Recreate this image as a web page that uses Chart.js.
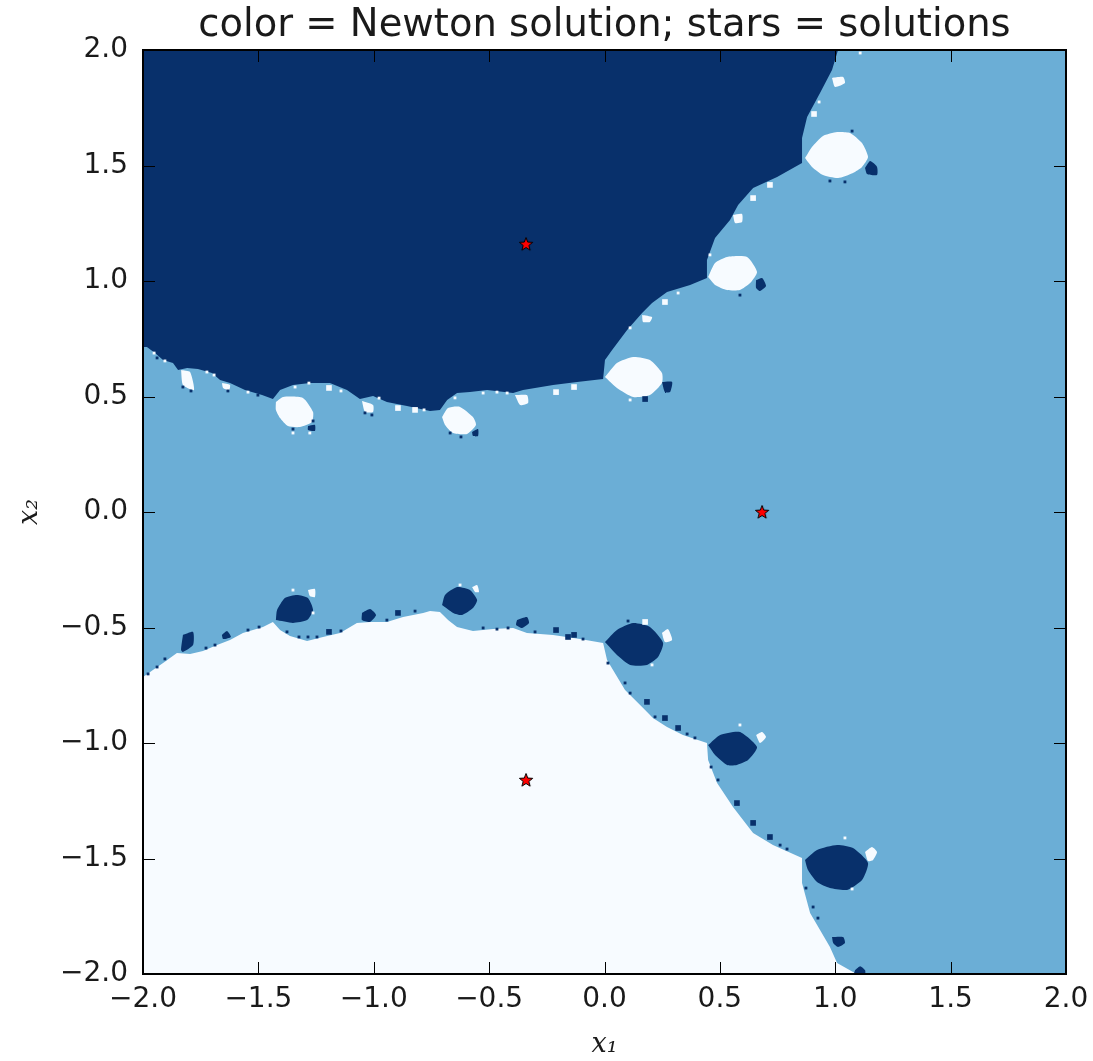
<!DOCTYPE html>
<html>
<head>
<meta charset="utf-8">
<style>
html, body { margin: 0; padding: 0; background: #fff; }
canvas { display: block; }
</style>
<script src="https://cdn.jsdelivr.net/npm/chart.js@4/dist/chart.umd.min.js"></script>
</head>
<body>
<canvas id="grafico" width="1093" height="1061"></canvas>
<script>
var tituloTexto = 'color = Newton solution; stars = solutions';
var tickValues = [-2, -1.5, -1, -0.5, 0, 0.5, 1, 1.5, 2];
var tickLabels = ['\u22122.0', '\u22121.5', '\u22121.0', '\u22120.5', '0.0', '0.5', '1.0', '1.5', '2.0'];

var plano = [[-2,-2],[2,-2],[2,2],[-2,2]];

// region of the upper solution (dark)
var regionArriba = [[-2,2],[-2,0.714],[-1.983,0.714],[-1.948,0.688],[-1.913,0.658],[-1.870,0.645],[-1.848,0.615],[-1.809,0.623],[-1.762,0.619],[-1.701,0.602],[-1.666,0.571],[-1.623,0.558],[-1.558,0.528],[-1.484,0.506],[-1.437,0.489],[-1.406,0.528],[-1.350,0.550],[-1.277,0.558],[-1.190,0.558],[-1.116,0.528],[-1.060,0.489],[-1.003,0.502],[-0.943,0.476],[-0.856,0.459],[-0.756,0.437],[-0.713,0.442],[-0.682,0.485],[-0.639,0.515],[-0.583,0.519],[-0.509,0.528],[-0.396,0.515],[-0.353,0.528],[-0.223,0.550],[-0.119,0.563],[-0.006,0.576],[0.002,0.658],[0.033,0.701],[0.098,0.788],[0.163,0.861],[0.206,0.905],[0.271,0.952],[0.371,0.983],[0.444,1.013],[0.444,1.091],[0.479,1.186],[0.544,1.264],[0.579,1.329],[0.644,1.403],[0.748,1.450],[0.856,1.511],[0.856,1.619],[0.878,1.710],[0.934,1.814],[0.986,1.913],[1.012,2]];

// region of the lower solution (white)
var regionAbajo = [[-2,-2],[-2,-0.714],[-1.987,-0.706],[-1.957,-0.684],[-1.913,-0.654],[-1.853,-0.610],[-1.796,-0.615],[-1.740,-0.602],[-1.679,-0.576],[-1.623,-0.554],[-1.567,-0.524],[-1.480,-0.498],[-1.437,-0.476],[-1.406,-0.511],[-1.363,-0.537],[-1.289,-0.558],[-1.220,-0.541],[-1.146,-0.524],[-1.073,-0.480],[-1.016,-0.476],[-0.943,-0.476],[-0.873,-0.455],[-0.786,-0.437],[-0.756,-0.429],[-0.713,-0.433],[-0.678,-0.468],[-0.639,-0.498],[-0.570,-0.515],[-0.483,-0.507],[-0.396,-0.502],[-0.336,-0.524],[-0.223,-0.532],[-0.106,-0.550],[-0.006,-0.567],[0.011,-0.641],[0.089,-0.771],[0.163,-0.844],[0.210,-0.892],[0.271,-0.931],[0.340,-0.965],[0.444,-1.000],[0.449,-1.074],[0.488,-1.173],[0.557,-1.277],[0.644,-1.390],[0.730,-1.442],[0.856,-1.498],[0.856,-1.606],[0.891,-1.736],[0.977,-1.883],[1.008,-1.952],[1.077,-1.991],[1.099,-2]];

// white islands
var islasBlancas = [
  [[0.869,1.532],[0.899,1.580],[0.947,1.628],[1.008,1.645],[1.064,1.641],[1.116,1.597],[1.142,1.537],[1.116,1.494],[1.077,1.468],[1.012,1.446],[0.947,1.459],[0.899,1.494]],
  [[0.449,1.017],[0.479,1.078],[0.531,1.104],[0.618,1.104],[0.661,1.039],[0.631,0.991],[0.587,0.961],[0.531,0.961],[0.479,0.983]],
  [[0.002,0.584],[0.054,0.645],[0.124,0.671],[0.197,0.658],[0.249,0.602],[0.249,0.558],[0.197,0.506],[0.124,0.498],[0.054,0.537]],
  [[-0.704,0.411],[-0.678,0.450],[-0.626,0.455],[-0.570,0.411],[-0.557,0.377],[-0.596,0.338],[-0.656,0.342],[-0.691,0.377]],
  [[-1.424,0.476],[-1.393,0.498],[-1.307,0.494],[-1.263,0.433],[-1.268,0.390],[-1.320,0.368],[-1.372,0.372],[-1.406,0.407],[-1.424,0.442]],
  [[-1.835,0.615],[-1.796,0.606],[-1.779,0.528],[-1.827,0.550]],
  [[-1.051,0.480],[-1.003,0.463],[-1.003,0.433],[-1.038,0.433]],
  [[-1.658,0.558],[-1.623,0.550],[-1.627,0.528],[-1.653,0.537]],
  [[-0.388,0.506],[-0.336,0.506],[-0.331,0.472],[-0.366,0.463]],
  [[0.986,1.879],[1.034,1.883],[1.042,1.857],[0.999,1.840]],
  [[0.557,1.286],[0.596,1.290],[0.596,1.255],[0.566,1.251]],
  [[0.163,0.853],[0.206,0.844],[0.197,0.823],[0.167,0.823]],
  [[1.129,-1.472],[1.159,-1.450],[1.181,-1.472],[1.164,-1.506],[1.142,-1.511]],
  [[0.657,-0.965],[0.683,-0.952],[0.700,-0.974],[0.674,-1.000]],
  [[0.249,-0.524],[0.275,-0.507],[0.293,-0.554],[0.262,-0.563]],
  [[-0.574,-0.325],[-0.552,-0.316],[-0.544,-0.346],[-0.561,-0.346]],
  [[-1.285,-0.338],[-1.255,-0.333],[-1.255,-0.368],[-1.277,-0.364]]
];

// dark islands
var islasOscuras = [
  [[0.869,-1.506],[0.921,-1.463],[1.008,-1.442],[1.077,-1.455],[1.142,-1.519],[1.116,-1.593],[1.051,-1.636],[0.977,-1.628],[0.921,-1.602],[0.882,-1.550]],
  [[0.449,-1.009],[0.501,-0.965],[0.587,-0.952],[0.661,-1.017],[0.622,-1.074],[0.574,-1.095],[0.531,-1.095],[0.479,-1.052]],
  [[0.002,-0.563],[0.054,-0.511],[0.124,-0.481],[0.197,-0.498],[0.254,-0.567],[0.232,-0.628],[0.184,-0.662],[0.111,-0.662],[0.054,-0.619]],
  [[-0.704,-0.403],[-0.691,-0.359],[-0.639,-0.325],[-0.583,-0.338],[-0.552,-0.381],[-0.570,-0.416],[-0.617,-0.446],[-0.656,-0.437]],
  [[-1.424,-0.468],[-1.419,-0.424],[-1.385,-0.372],[-1.333,-0.359],[-1.285,-0.372],[-1.263,-0.424],[-1.289,-0.468],[-1.350,-0.480]],
  [[-1.827,-0.532],[-1.783,-0.519],[-1.783,-0.576],[-1.827,-0.606],[-1.835,-0.597]],
  [[-1.051,-0.437],[-1.016,-0.420],[-0.990,-0.446],[-1.016,-0.476],[-1.051,-0.468]],
  [[-1.658,-0.532],[-1.636,-0.515],[-1.619,-0.541],[-1.653,-0.550]],
  [[-0.379,-0.468],[-0.336,-0.455],[-0.327,-0.481],[-0.357,-0.502],[-0.383,-0.489]],
  [[0.986,-1.840],[1.034,-1.840],[1.042,-1.866],[1.012,-1.883],[0.991,-1.866]],
  [[1.086,-1.983],[1.108,-1.966],[1.129,-1.983],[1.129,-2],[1.082,-2]],
  [[1.129,1.489],[1.151,1.519],[1.181,1.494],[1.181,1.459],[1.138,1.463]],
  [[0.657,1.004],[0.683,1.013],[0.700,0.978],[0.674,0.957],[0.657,0.970]],
  [[0.249,0.563],[0.293,0.563],[0.284,0.519],[0.262,0.519]],
  [[-0.574,0.346],[-0.548,0.359],[-0.548,0.329],[-0.570,0.329]],
  [[-1.285,0.372],[-1.255,0.377],[-1.255,0.351],[-1.285,0.355]]
];

// loose pixels along the basin borders
var puntosOscurosChicos = [[-1.978,-0.701],[-1.939,-0.671],[-1.905,-0.636],[-1.727,-0.589],[-1.688,-0.576],[-1.545,-0.511],[-1.497,-0.498],[-1.376,-0.519],[-1.324,-0.541],[-1.285,-0.541],[-1.246,-0.541],[-1.142,-0.515],[-0.821,-0.429],[-0.943,-0.468],[-0.526,-0.502],[-0.466,-0.507],[-0.418,-0.502],[-0.301,-0.519],[-0.093,-0.550],[0.102,-0.472],[0.015,-0.654],[0.089,-0.740],[0.111,-0.784],[0.219,-0.887],[0.358,-0.961],[0.392,-0.978],[0.462,-1.104],[0.492,-1.160],[0.761,-1.442],[0.791,-1.459],[0.873,-1.628],[0.904,-1.710],[0.925,-1.758],[1.073,1.649],[0.977,1.433],[1.042,1.429],[0.587,0.939],[-0.669,0.342],[-0.622,0.325],[-1.350,0.359],[-1.263,0.394],[-1.038,0.429],[-1.008,0.420],[-1.827,0.541],[-1.792,0.524],[-1.632,0.524],[-1.502,0.506],[-1.939,0.667]];
var puntosOscurosGrandes = [[-1.194,-0.519],[-0.895,-0.437],[-0.210,-0.511],[-0.132,-0.532],[-0.158,-0.541],[0.184,-0.822],[0.262,-0.892],[0.319,-0.935],[0.574,-1.260],[0.644,-1.346],[0.717,-1.407],[0.176,0.489]];
var puntosBlancosChicos = [[-1.952,0.688],[-1.905,0.654],[-1.723,0.606],[-1.692,0.593],[-1.545,0.519],[-1.341,0.541],[-1.281,0.558],[-1.142,0.524],[-0.977,0.493],[-1.350,0.342],[-1.277,0.342],[-0.782,0.442],[-0.648,0.494],[-0.526,0.515],[-0.466,0.519],[-0.422,0.515],[0.111,0.485],[0.319,0.948],[0.930,1.775],[0.457,1.113],[1.108,1.987],[0.111,0.797],[0.587,-0.922],[1.042,-1.411],[1.073,-1.632],[-0.626,-0.316],[-1.350,-0.338],[-1.263,-0.437],[0.206,-0.662]];
var puntosBlancosGrandes = [[-1.194,0.537],[-0.895,0.450],[-0.821,0.442],[-0.210,0.519],[-0.132,0.541],[0.262,0.909],[0.908,1.723],[0.717,1.416],[0.644,1.359],[0.176,-0.476]];

var soluciones = [[-0.340,1.160],[0.683,0],[-0.340,-1.160]];

var colorOscuro = '#08306b';
var colorMedio = '#6baed6';
var colorBlanco = '#f7fbff';

function aPuntos(lista) {
  return lista.map(function(p) { return { x: p[0], y: p[1] }; });
}

function poligono(lista, color, orden, curva) {
  return {
    data: aPuntos(lista.concat([lista[0]])),
    showLine: true,
    fill: 'shape',
    backgroundColor: color,
    borderWidth: 0,
    pointRadius: 0,
    tension: curva,
    order: orden
  };
}

function puntos(lista, color, radio, orden) {
  return {
    data: aPuntos(lista),
    showLine: false,
    pointStyle: 'rect',
    pointRadius: radio,
    pointBackgroundColor: color,
    pointBorderWidth: 0,
    order: orden
  };
}

// filled five point star, the built in 'star' is only strokes
function crearEstrella() {
  var c = document.createElement('canvas');
  c.width = 16;
  c.height = 16;
  var g = c.getContext('2d');
  g.beginPath();
  for (var i = 0; i < 10; i++) {
    var r = i % 2 === 0 ? 7 : 3;
    var a = -Math.PI / 2 + i * Math.PI / 5;
    g.lineTo(8 + r * Math.cos(a), 8.5 + r * Math.sin(a));
  }
  g.closePath();
  g.fillStyle = '#ff0000';
  g.fill();
  g.lineWidth = 1;
  g.strokeStyle = '#000000';
  g.stroke();
  return c;
}

var datasets = [];
datasets.push(poligono(plano, colorMedio, 9, 0));
datasets.push(poligono(regionArriba, colorOscuro, 8, 0));
datasets.push(poligono(regionAbajo, colorBlanco, 8, 0));
islasBlancas.forEach(function(isla) { datasets.push(poligono(isla, colorBlanco, 7, 0.2)); });
islasOscuras.forEach(function(isla) { datasets.push(poligono(isla, colorOscuro, 7, 0.2)); });
datasets.push(puntos(puntosOscurosChicos, colorOscuro, 2, 6));
datasets.push(puntos(puntosOscurosGrandes, colorOscuro, 4, 6));
datasets.push(puntos(puntosBlancosChicos, colorBlanco, 2, 6));
datasets.push(puntos(puntosBlancosGrandes, colorBlanco, 4, 6));
datasets.push({
  data: aPuntos(soluciones),
  showLine: false,
  pointStyle: crearEstrella(),
  order: 1
});

// matplotlib style frame with the ticks pointing inwards on all four sides
var marcoPlugin = {
  id: 'marco',
  afterDatasetsDraw: function(chart) {
    var ctx = chart.ctx, a = chart.chartArea, largo = 12;
    ctx.save();
    ctx.strokeStyle = '#000000';
    ctx.lineWidth = 1;
    ctx.beginPath();
    tickValues.forEach(function(v) {
      var px = Math.round(chart.scales.x.getPixelForValue(v)) + 0.5;
      var py = Math.round(chart.scales.y.getPixelForValue(v)) + 0.5;
      ctx.moveTo(px, a.top); ctx.lineTo(px, a.top + largo);
      ctx.moveTo(px, a.bottom); ctx.lineTo(px, a.bottom - largo);
      ctx.moveTo(a.left, py); ctx.lineTo(a.left + largo, py);
      ctx.moveTo(a.right, py); ctx.lineTo(a.right - largo, py);
    });
    ctx.stroke();
    ctx.lineWidth = 2;
    ctx.strokeRect(a.left, a.top, a.right - a.left, a.bottom - a.top);
    ctx.restore();
  }
};

function opcionesEje(titulo, margenTicks, margenTitulo, fijarTamano) {
  return {
    type: 'linear',
    min: -2,
    max: 2,
    afterBuildTicks: function(eje) {
      eje.ticks = tickValues.map(function(v) { return { value: v }; });
    },
    ticks: {
      autoSkip: false,
      maxRotation: 0,
      color: '#1a1a1a',
      padding: margenTicks,
      font: { family: 'DejaVu Sans', size: 28 },
      callback: function(valor) { return tickLabels[tickValues.indexOf(valor)]; }
    },
    grid: { display: false, drawTicks: false },
    border: { display: false },
    title: {
      display: true,
      text: titulo,
      color: '#1a1a1a',
      padding: { top: margenTitulo, bottom: 0 },
      font: { family: 'DejaVu Serif', style: 'italic', size: 27 }
    },
    afterFit: function(eje) {
      fijarTamano(eje);
      eje.paddingLeft = eje.paddingRight = eje.paddingTop = eje.paddingBottom = 0;
    }
  };
}

var grafico = new Chart(document.getElementById('grafico').getContext('2d'), {
  type: 'scatter',
  data: { datasets: datasets },
  plugins: [marcoPlugin],
  options: {
    responsive: false,
    animation: false,
    layout: { padding: { left: 0, right: 27, top: 0, bottom: 0 } },
    plugins: {
      legend: { display: false },
      tooltip: { enabled: false },
      title: {
        display: true,
        fullSize: false,
        text: tituloTexto,
        color: '#1a1a1a',
        font: { family: 'DejaVu Sans', size: 38.5, weight: 'normal' },
        padding: { top: 3, bottom: 0.8 }
      }
    },
    scales: {
      x: opcionesEje('x\u2081', 9, -4, function(eje) { eje.height = 87; }),
      y: opcionesEje('x\u2082', 15, 14, function(eje) { eje.width = 143; })
    }
  }
});
</script>
</body>
</html>
